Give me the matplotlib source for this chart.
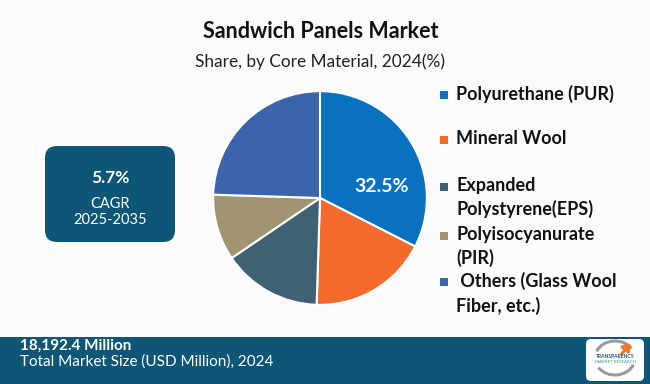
import matplotlib
matplotlib.use("Agg")
import matplotlib.pyplot as plt
from matplotlib.patches import FancyBboxPatch, Rectangle, Arc, FancyArrowPatch

# ---- data ----
categories = ["Polyurethane (PUR)", "Mineral Wool", "Expanded\nPolystyrene(EPS)",
              "Polyisocyanurate\n(PIR)", " Others (Glass Wool\nFiber, etc.)"]
shares = [32.5, 18.0, 15.0, 10.0, 24.5]
colors = ["#0A70C0", "#F26A2C", "#3E6274", "#A09471", "#3C64AA"]
shown_label = "32.5%"
title = "Sandwich Panels Market"
subtitle = "Share, by Core Material, 2024(%)"
cagr_value = "5.7%"
cagr_text = "CAGR\n2025-2035"
market_value = "18,192.4 Million"
market_text = "Total Market Size (USD Million), 2024"

W, H = 650, 384
BG = "#FBFBFB"
DARK = "#0E5676"
plt.rcParams["font.family"] = ["Lato", "DejaVu Sans"]

fig = plt.figure(figsize=(W / 100, H / 100), dpi=100, facecolor=BG)
bg = fig.add_axes([0, 0, 1, 1])
bg.set_xlim(0, W)
bg.set_ylim(H, 0)
bg.axis("off")
bg.set_facecolor(BG)

# titles
bg.text(321, 31, title, ha="center", va="center", fontsize=15.5, fontweight="bold", color="#111111")
bg.text(320, 62, subtitle, ha="center", va="center", fontsize=12.4, color="#222222")

# CAGR box
bg.add_patch(FancyBboxPatch((45, 146), 130, 96, boxstyle="round,pad=0,rounding_size=12",
                            facecolor=DARK, edgecolor="none"))
bg.text(110, 178, cagr_value, ha="center", va="center", fontsize=12.5, fontweight="bold", color="white")
bg.text(110, 212, cagr_text, ha="center", va="center", fontsize=10.5, color="white", linespacing=1.15)

# bottom bar
bg.add_patch(Rectangle((0, 337), W, H - 337, facecolor=DARK, edgecolor="none"))
bg.text(20, 346, market_value, ha="left", va="center", fontsize=11, fontweight="bold", color="white")
bg.text(20, 362, market_text, ha="left", va="center", fontsize=11, color="white")

# logo
bg.add_patch(FancyBboxPatch((586, 339), 58, 42, boxstyle="round,pad=0,rounding_size=5",
                            facecolor="white", edgecolor="none"))
bg.add_patch(Arc((615, 358), 40, 34, theta1=200, theta2=330, color="#9A9A9A", lw=2.2))
bg.add_patch(Arc((615, 358), 40, 34, theta1=20, theta2=150, color="#9A9A9A", lw=2.2))
bg.add_artist(FancyArrowPatch((620, 356), (632, 341), arrowstyle="-|>,head_width=3,head_length=4",
                              color="#F07A2A", lw=2.2, mutation_scale=1))
bg.text(615, 356.5, "TRANSPARENCY", ha="center", va="center", fontsize=3.6, fontweight="bold", color="#1F4E79")
bg.text(615, 362, "MARKET RESEARCH", ha="center", va="center", fontsize=3.2, color="#2E9E6E")

# pie
cx, cy, r = 320, 198, 109
pax = fig.add_axes([(cx - r) / W, (H - cy - r) / H, 2 * r / W, 2 * r / H])
wedges, _ = pax.pie(shares, colors=colors, startangle=90, counterclock=False, radius=1,
                    wedgeprops=dict(edgecolor="white", linewidth=1.5))
pax.set_xlim(-1.02, 1.02)
pax.set_ylim(-1.02, 1.02)
pax.set_aspect("equal")
pax.axis("off")
pax.text(0.58, 0.11, shown_label, ha="center", va="center", fontsize=14, fontweight="bold", color="white")

# legend
leg_y = [95, 140, 187, 236, 282]
for lbl, col, y in zip(categories, colors, leg_y):
    bg.add_patch(Rectangle((440, y - 4), 8, 8, facecolor=col, edgecolor="none"))
    bg.text(456, y - 10, lbl, ha="left", va="top", fontsize=13, fontweight="bold",
            color="#111111", linespacing=1.42)

fig.savefig("out.png", dpi=100, facecolor=BG)
